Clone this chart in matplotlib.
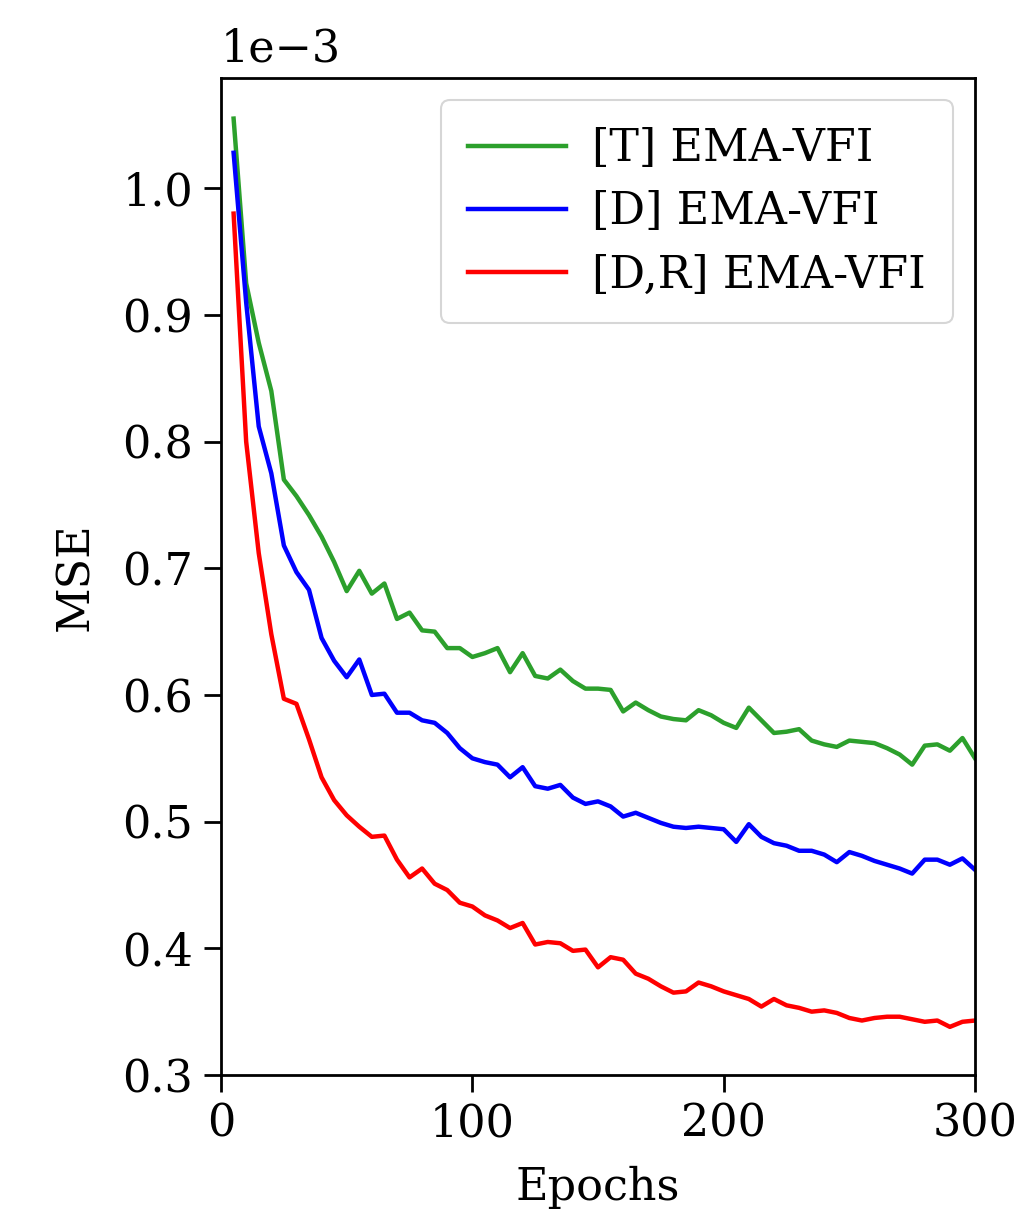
import numpy as np
import matplotlib
matplotlib.use("Agg")
import matplotlib.pyplot as plt
from matplotlib.ticker import ScalarFormatter

plt.rcParams['font.family'] = 'DejaVu Serif'

# values, in units of 1e-3
epochs = list(range(5, 301, 5))

mse_T = [1.055, 0.925, 0.878, 0.840, 0.770, 0.757, 0.742, 0.725, 0.705, 0.682,
         0.698, 0.680, 0.688, 0.660, 0.665, 0.651, 0.650, 0.637, 0.637, 0.630,
         0.633, 0.637, 0.618, 0.633, 0.615, 0.613, 0.620, 0.611, 0.605, 0.605,
         0.604, 0.587, 0.594, 0.588, 0.583, 0.581, 0.580, 0.588, 0.584, 0.578,
         0.574, 0.590, 0.580, 0.570, 0.571, 0.573, 0.564, 0.561, 0.559, 0.564,
         0.563, 0.562, 0.558, 0.553, 0.545, 0.560, 0.561, 0.556, 0.566, 0.550]

mse_D = [1.028, 0.910, 0.812, 0.775, 0.718, 0.697, 0.683, 0.645, 0.627, 0.614,
         0.628, 0.600, 0.601, 0.586, 0.586, 0.580, 0.578, 0.570, 0.558, 0.550,
         0.547, 0.545, 0.535, 0.543, 0.528, 0.526, 0.529, 0.519, 0.514, 0.516,
         0.512, 0.504, 0.507, 0.503, 0.499, 0.496, 0.495, 0.496, 0.495, 0.494,
         0.484, 0.498, 0.488, 0.483, 0.481, 0.477, 0.477, 0.474, 0.468, 0.476,
         0.473, 0.469, 0.466, 0.463, 0.459, 0.470, 0.470, 0.466, 0.471, 0.462]

mse_DR = [0.980, 0.800, 0.712, 0.648, 0.597, 0.593, 0.565, 0.535, 0.517, 0.505,
          0.496, 0.488, 0.489, 0.470, 0.456, 0.463, 0.451, 0.446, 0.436, 0.433,
          0.426, 0.422, 0.416, 0.420, 0.403, 0.405, 0.404, 0.398, 0.399, 0.385,
          0.393, 0.391, 0.380, 0.376, 0.370, 0.365, 0.366, 0.373, 0.370, 0.366,
          0.363, 0.360, 0.354, 0.360, 0.355, 0.353, 0.350, 0.351, 0.349, 0.345,
          0.343, 0.345, 0.346, 0.346, 0.344, 0.342, 0.343, 0.338, 0.342, 0.343]

labels = ['[T] EMA-VFI', '[D] EMA-VFI', '[D,R] EMA-VFI']
colors = ['tab:green', 'b', 'r']

fig = plt.figure(figsize=(10.2, 12.14), dpi=100)
ax = fig.add_axes([0.2167, 0.1145, 0.7392, 0.8212])

for ys, lab, c in zip([mse_T, mse_D, mse_DR], labels, colors):
    ax.plot(epochs, np.array(ys) * 1e-3, color=c, lw=3.2, label=lab)

ax.set_xlim(0, 300)
ax.set_ylim(0.3e-3, 1.087e-3)
ax.set_xticks([0, 100, 200, 300])
ax.set_yticks(np.arange(0.3, 1.01, 0.1) * 1e-3)

fmt = ScalarFormatter(useMathText=False)
fmt.set_powerlimits((-2, 2))
ax.yaxis.set_major_formatter(fmt)
ax.yaxis.OFFSETTEXTPAD = 12

ax.tick_params(labelsize=32, length=12, width=2, pad=8)
ax.yaxis.get_offset_text().set_fontsize(32)
for s in ax.spines.values():
    s.set_linewidth(2)

ax.set_xlabel('Epochs', fontsize=32, labelpad=14)
ax.set_ylabel('MSE', fontsize=32, labelpad=18)

leg = ax.legend(loc='upper right', fontsize=32, handlelength=2.2, borderpad=0.6,
                labelspacing=0.45, handletextpad=0.6, borderaxespad=0.5)
leg.get_frame().set_linewidth(1.5)
for line in leg.get_lines():
    line.set_linewidth(3.2)

fig.savefig('out.png', dpi=100)
